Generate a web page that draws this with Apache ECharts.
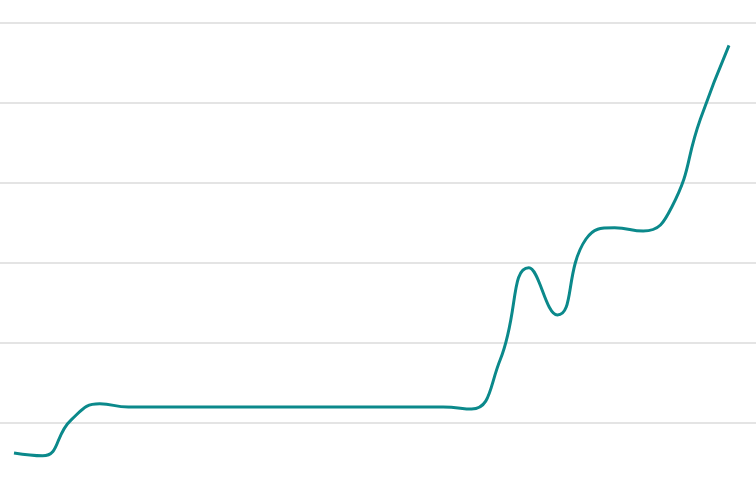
<!DOCTYPE html>
<html>
<head>
<meta charset="UTF-8">
<script src="https://cdn.jsdelivr.net/npm/echarts@6/dist/echarts.min.js"></script>
<style>
    html, body { margin: 0; background: #fff; overflow: hidden; }
    /* 画布比窗口高一些，最底下那条网格线落在可视区外 */
    #chart { width: 756px; height: 503px; }
</style>
</head>
<body>
<div id="chart"></div>
<script>
    // 数据：26 个等距点
    var categories = ['1', '2', '3', '4', '5', '6', '7', '8', '9', '10', '11', '12', '13',
                      '14', '15', '16', '17', '18', '19', '20', '21', '22', '23', '24', '25', '26'];
    var values = [0.625, 0.59, 1.04, 1.24, 1.2, 1.2, 1.2, 1.2, 1.2, 1.2, 1.2, 1.2, 1.2, 1.2, 1.2, 1.2,
                  1.175, 1.79, 2.94, 2.35, 3.3, 3.44, 3.4, 3.7, 4.8, 5.72];

    var myChart = echarts.init(document.getElementById('chart'));
    myChart.setOption({
        animation: false,
        grid: [
            // 网格线铺满整个宽度
            { left: 0, right: 0, top: 23, bottom: 0 },
            // 折线所在区域
            { left: 14, right: 27, top: 23, bottom: 0 }
        ],
        xAxis: [
            { type: 'category', data: categories, gridIndex: 0, show: false },
            { type: 'category', data: categories, gridIndex: 1, boundaryGap: false, show: false }
        ],
        yAxis: [
            {
                type: 'value', gridIndex: 0, min: 0, max: 6, interval: 1,
                axisLabel: { show: false },
                axisLine: { show: false },
                axisTick: { show: false },
                splitLine: { lineStyle: { color: '#e4e4e4', width: 2 } }
            },
            {
                type: 'value', gridIndex: 1, min: 0, max: 6, interval: 1,
                show: false,
                splitLine: { show: false }
            }
        ],
        series: [{
            type: 'line',
            xAxisIndex: 1,
            yAxisIndex: 1,
            data: values,
            smooth: true,
            symbol: 'none',
            lineStyle: { color: '#0b898b', width: 3 }
        }]
    });
</script>
</body>
</html>
